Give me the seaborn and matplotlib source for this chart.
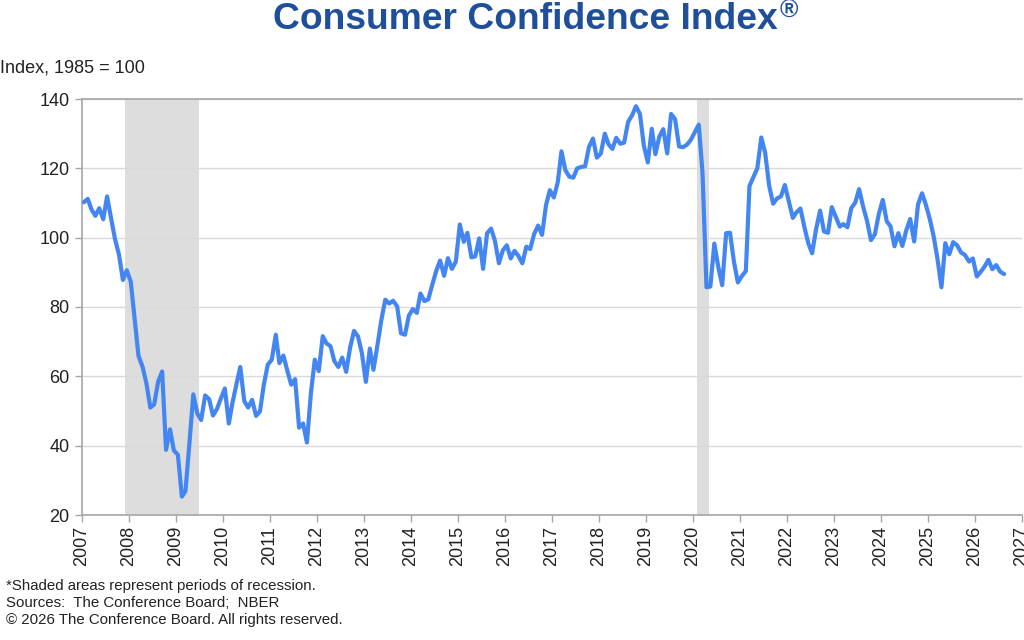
import matplotlib
matplotlib.use("Agg")
import matplotlib.pyplot as plt
import matplotlib.dates as mdates
import seaborn as sns
import pandas as pd
import numpy as np

# Monthly index values (1985 = 100)
cci_2007 = [110.2, 111.2, 108.2, 106.3, 108.5, 105.3, 111.9, 105.6, 99.5, 95.2, 87.8, 90.6]
cci_2008 = [87.3, 76.4, 65.9, 62.8, 58.1, 51.0, 51.9, 58.5, 61.4, 38.8, 44.7, 38.6]
cci_2009 = [37.4, 25.3, 26.9, 40.8, 54.8, 49.3, 47.4, 54.5, 53.4, 48.7, 50.6, 53.6]
cci_2010 = [56.5, 46.4, 52.3, 57.7, 62.7, 52.9, 51.0, 53.2, 48.6, 49.9, 57.8, 63.4]
cci_2011 = [64.8, 72.0, 63.8, 66.0, 61.7, 57.6, 59.2, 45.2, 46.4, 40.9, 55.2, 64.8]
cci_2012 = [61.5, 71.6, 69.5, 68.7, 64.4, 62.7, 65.4, 61.3, 68.4, 73.1, 71.5, 66.7]
cci_2013 = [58.4, 68.0, 61.9, 69.0, 76.2, 82.1, 81.0, 81.8, 80.2, 72.4, 72.0, 77.5]
cci_2014 = [79.4, 78.3, 83.9, 81.7, 82.2, 86.4, 90.3, 93.4, 89.0, 94.1, 91.0, 93.1]
cci_2015 = [103.8, 98.8, 101.4, 94.3, 94.6, 99.8, 91.0, 101.3, 102.6, 99.1, 92.6, 96.3]
cci_2016 = [97.8, 94.0, 96.2, 94.7, 92.6, 97.4, 96.7, 101.1, 103.5, 100.8, 109.4, 113.7]
cci_2017 = [111.6, 116.1, 124.9, 119.4, 117.6, 117.3, 120.0, 120.4, 120.6, 126.2, 128.6, 123.1]
cci_2018 = [124.3, 130.0, 127.0, 125.6, 128.8, 127.1, 127.4, 133.4, 135.3, 137.9, 135.7, 126.6]
cci_2019 = [121.7, 131.4, 124.1, 129.2, 131.3, 124.3, 135.7, 134.2, 126.3, 126.1, 126.8, 128.2]
cci_2020 = [130.4, 132.6, 118.8, 85.7, 85.9, 98.3, 91.7, 86.3, 101.3, 101.4, 92.9, 87.1]
cci_2021 = [88.9, 90.4, 114.9, 117.5, 120.0, 128.9, 124.5, 115.0, 109.8, 111.3, 111.9, 115.2]
cci_2022 = [110.5, 105.7, 107.3, 108.4, 103.2, 98.4, 95.5, 102.5, 107.8, 101.8, 101.4, 108.8]
cci_2023 = [106.0, 103.2, 103.9, 103.0, 108.5, 110.1, 114.0, 109.0, 104.8, 99.3, 101.0, 106.8]
cci_2024 = [110.9, 104.7, 103.3, 97.5, 101.3, 97.6, 102.0, 105.4, 98.9, 109.6, 112.8, 109.5]
cci_2025 = [105.3, 100.1, 93.9, 85.7, 98.4, 95.2, 98.7, 97.8, 95.7, 95.0, 93.1, 94.0]
cci_2026 = [88.8, 90.2, 91.6, 93.6, 90.9, 92.1, 90.2, 89.5]

first_month = "2007-01-01"

# NBER recessions (shaded)
recession_starts = ["2007-12-01", "2020-02-01"]
recession_ends = ["2009-07-01", "2020-05-01"]

values = (cci_2007 + cci_2008 + cci_2009 + cci_2010 + cci_2011 + cci_2012 + cci_2013
          + cci_2014 + cci_2015 + cci_2016 + cci_2017 + cci_2018 + cci_2019 + cci_2020
          + cci_2021 + cci_2022 + cci_2023 + cci_2024 + cci_2025 + cci_2026)
dates = pd.date_range(first_month, periods=len(values), freq="MS") + pd.Timedelta(days=14)
df = pd.DataFrame({"date": dates, "cci": values})

sns.set_theme(style="white")
plt.rcParams["font.family"] = ["Liberation Sans", "DejaVu Sans"]

text_color = "#222222"
axis_gray = "#A6A6A6"
title_blue = "#1F4E9B"

fig = plt.figure(figsize=(10.24, 6.4), dpi=100)
ax = fig.add_axes([82 / 1024, 1 - 515 / 640, (1022 - 82) / 1024, (515 - 99) / 640])

for start, end in zip(recession_starts, recession_ends):
    ax.axvspan(pd.Timestamp(start), pd.Timestamp(end), color="#DDDDDD", lw=0, zorder=0)

sns.lineplot(data=df, x="date", y="cci", ax=ax, color="#4386F2", linewidth=3.0,
             solid_joinstyle="round", solid_capstyle="round", zorder=3)

ax.set_xlim(pd.Timestamp("2007-01-01"), pd.Timestamp("2027-01-01"))
ax.set_ylim(20, 140)
ax.set_yticks(np.arange(20, 141, 20))
ax.xaxis.set_major_locator(mdates.YearLocator())
ax.xaxis.set_major_formatter(mdates.DateFormatter("%Y"))
ax.yaxis.grid(True, color="#D9D9D9", linewidth=1.0, zorder=1)
ax.set_axisbelow(True)
ax.set_xlabel("")
ax.set_ylabel("")

for side in ["left", "bottom", "top"]:
    ax.spines[side].set_color(axis_gray)
    ax.spines[side].set_linewidth(1.2)
ax.spines["right"].set_visible(False)

ax.tick_params(axis="x", direction="out", length=5, width=1, color=axis_gray,
               labelsize=13, labelcolor=text_color, labelrotation=90, pad=3, bottom=True)
ax.tick_params(axis="y", direction="out", length=5, width=1, color=axis_gray,
               labelsize=13, labelcolor=text_color, pad=4, left=True)

# title with superscript registered mark
title = fig.text(525 / 1024, 1 - 29 / 640, "Consumer Confidence Index", ha="center",
                 va="baseline", fontsize=26.8, fontweight="bold", color=title_blue)
renderer = fig.canvas.get_renderer()
bb = title.get_window_extent(renderer)
fig.text((bb.x1 + 2) / fig.bbox.width, 1 - 18 / 640, "®", ha="left", va="baseline",
         fontsize=18, fontweight="bold", color=title_blue)

fig.text(0, 1 - 68 / 640, "Index, 1985 = 100", ha="left", va="center",
         fontsize=13, color=text_color)

footnotes = [
    "*Shaded areas represent periods of recession.",
    "Sources:  The Conference Board;  NBER",
    "\u00a9 2026 The Conference Board. All rights reserved.",
]
for i, line in enumerate(footnotes):
    fig.text(6 / 1024, 1 - (586 + i * 17) / 640, line, ha="left", va="center",
             fontsize=10.8, color=text_color)

fig.savefig("out.png", dpi=100)
